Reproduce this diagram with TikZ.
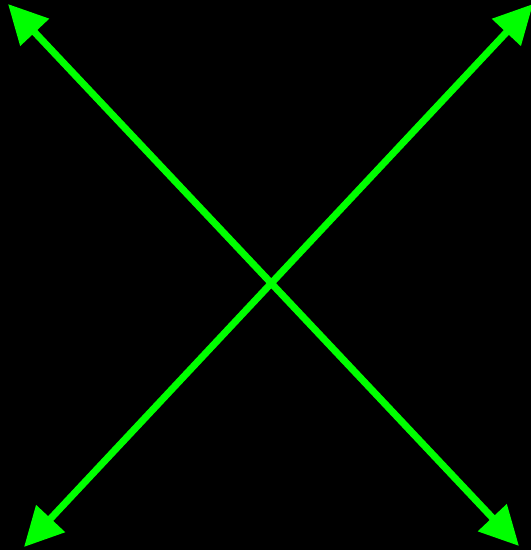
\documentclass[tikz,border=0pt]{standalone}
\usetikzlibrary{arrows.meta}
\definecolor{lime}{HTML}{00FF00}
\tikzset{
  dblarrow/.style={draw=lime, line width=7pt,
    {Triangle[length=39pt,width=38pt]}-{Triangle[length=39pt,width=38pt]}}
}
\begin{document}
\begin{tikzpicture}[x=1pt,y=1pt]
  \fill[black] (0,0) rectangle (531,550);
  \useasboundingbox (0,0) rectangle (531,550);
  \coordinate (tl) at (8,546);
  \coordinate (br) at (519,4);
  \coordinate (tr) at (533,546);
  \coordinate (bl) at (24,3);
  \draw[dblarrow] (tl) -- (br);
  \draw[dblarrow] (tr) -- (bl);
\end{tikzpicture}
\end{document}
